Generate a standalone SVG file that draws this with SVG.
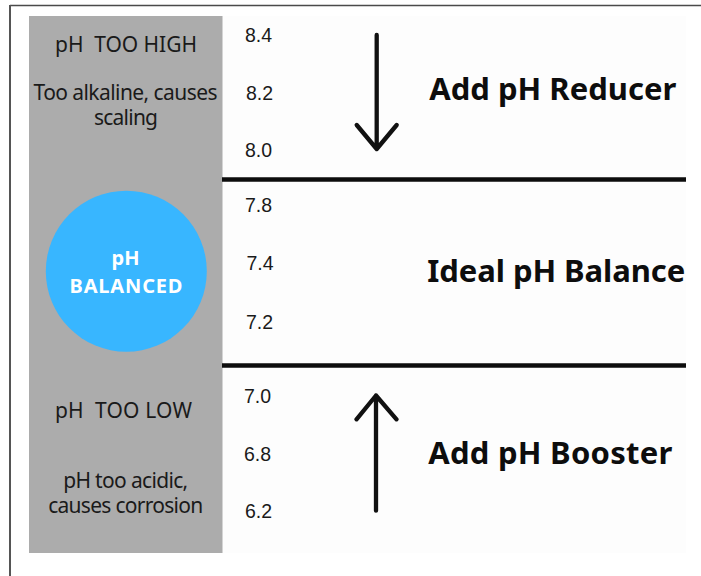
<svg xmlns="http://www.w3.org/2000/svg" width="701" height="576" viewBox="0 0 701 576">
  <style>
    .lbl { font-family: "Noto Sans", "Open Sans", "Liberation Sans", sans-serif; font-size: 21px; fill: #1a1a1a; white-space: pre; }
    .mid { text-anchor: middle; }
    .num { font-family: "Liberation Sans", Arial, sans-serif; font-size: 19.5px; fill: #1a1a1a; }
    .head { font-family: "Noto Sans", "Open Sans", "Liberation Sans", sans-serif; font-size: 31px; font-weight: bold; fill: #0d0d0d; }
    .circ { font-family: "Noto Sans", "Open Sans", "Liberation Sans", sans-serif; font-size: 20px; font-weight: bold; fill: #ffffff; text-anchor: middle; }
    .div { stroke: #0d0d0d; stroke-width: 4.5; }
    .arrow { fill: none; stroke: #111111; stroke-width: 4.3; stroke-linecap: round; stroke-linejoin: round; }
  </style>
  <rect x="0" y="0" width="701" height="576" fill="#ffffff"/>
  <g id="frame">
    <line x1="10" y1="5.5" x2="701" y2="5.5" stroke="#4a4a4a" stroke-width="1.6"/>
    <line x1="10" y1="5" x2="10" y2="576" stroke="#555555" stroke-width="2"/>
  </g>
  <g id="content-area">
    <rect x="222" y="16" width="464" height="537" fill="#fdfdfd"/>
  </g>
  <g id="side-panel">
    <rect x="29" y="16" width="193.5" height="537" fill="#acacac"/>
  </g>
  <g id="too-high">
    <text class="lbl" x="55" y="51.7" textLength="142">pH  TOO HIGH</text>
    <text class="lbl mid" x="125.5" y="100" textLength="184">Too alkaline, causes</text>
    <text class="lbl mid" x="126" y="125" textLength="64">scaling</text>
  </g>
  <g id="balanced">
    <circle cx="126.3" cy="271.2" r="80.5" fill="#38b6ff"/>
    <text class="circ" x="125.5" y="265">pH</text>
    <text class="circ" x="126" y="292.7" textLength="113">BALANCED</text>
  </g>
  <g id="too-low">
    <text class="lbl" x="55" y="418.3" textLength="137">pH  TOO LOW</text>
    <text class="lbl mid" x="125.7" y="488" textLength="125">pH too acidic,</text>
    <text class="lbl mid" x="125.7" y="512.7" textLength="155">causes corrosion</text>
  </g>
  <g id="scale">
    <text class="num" x="245" y="41.7">8.4</text>
    <text class="num" x="246" y="100">8.2</text>
    <text class="num" x="245" y="156.7">8.0</text>
    <text class="num" x="245" y="212.3">7.8</text>
    <text class="num" x="246.5" y="270">7.4</text>
    <text class="num" x="246" y="329">7.2</text>
    <text class="num" x="244" y="403.3">7.0</text>
    <text class="num" x="244" y="460.7">6.8</text>
    <text class="num" x="245" y="518.3">6.2</text>
  </g>
  <g id="dividers">
    <line class="div" x1="222" y1="179.5" x2="686" y2="179.5"/>
    <line class="div" x1="222" y1="365.5" x2="686" y2="365.5"/>
  </g>
  <g id="reducer">
    <text class="head" x="429.3" y="99.5" textLength="247">Add pH Reducer</text>
  </g>
  <g id="ideal">
    <text class="head" x="427.3" y="281.7" textLength="258">Ideal pH Balance</text>
  </g>
  <g id="booster">
    <text class="head" x="428.3" y="464" textLength="244">Add pH Booster</text>
  </g>
  <g id="connectors">
    <path class="arrow" d="M376.7,35 V149 M356.7,125 L376.7,149 L396.7,125"/>
    <path class="arrow" d="M376,510.7 V395.5 M356.5,419.3 L376,395.5 L396.5,419.3"/>
  </g>
</svg>
